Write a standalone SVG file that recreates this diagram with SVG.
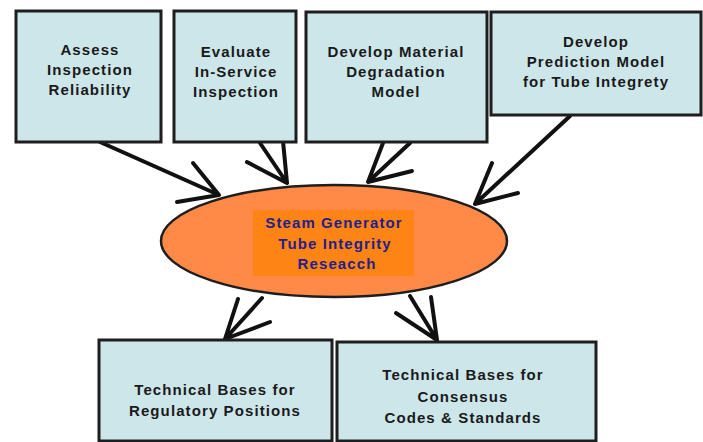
<svg xmlns="http://www.w3.org/2000/svg" width="703" height="442" viewBox="0 0 703 442">
<style>
.box{fill:#cde6ea;stroke:#1e1e1e;stroke-width:3}
.t{font-family:"Liberation Sans",Arial,sans-serif;font-weight:bold;font-size:15px;letter-spacing:1.1px;fill:#1a1a1a;text-anchor:middle}
.c{fill:#23208a}
.arr{fill:none;stroke:#111;stroke-width:4;stroke-linecap:round;stroke-linejoin:round}
</style>
<rect width="703" height="442" fill="#ffffff"/>
<g id="connectors">
<path class="arr" d="M100,142 L219,195 M193,163 L219,195 L177,202"/>
<path class="arr" d="M260,143 L287,183 M283,141 L287,183 L247,162"/>
<path class="arr" d="M410,143 L368,182 M383,143 L368,182 L412,171"/>
<path class="arr" d="M570,116 L475,204 M492,163 L475,204 L518,193"/>
<path class="arr" d="M262,298 L225,339 M238,299 L225,339 L270,322"/>
<path class="arr" d="M410,296 L437,340 M431,297 L437,340 L396,313"/>
</g>
<g id="n1">
<rect class="box" x="16" y="11" width="145" height="131"/>
<text class="t" x="90" y="55">Assess</text>
<text class="t" x="90" y="75">Inspection</text>
<text class="t" x="90" y="95">Reliability</text>
</g>
<g id="n2">
<rect class="box" x="174" y="11" width="122" height="131"/>
<text class="t" x="236" y="57">Evaluate</text>
<text class="t" x="236" y="77">In-Service</text>
<text class="t" x="236" y="97">Inspection</text>
</g>
<g id="n3">
<rect class="box" x="306" y="12" width="181" height="130"/>
<text class="t" x="396" y="57">Develop Material</text>
<text class="t" x="396" y="77">Degradation</text>
<text class="t" x="396" y="97">Model</text>
</g>
<g id="n4">
<rect class="box" x="491" y="12" width="210" height="103"/>
<text class="t" x="596" y="47">Develop</text>
<text class="t" x="596" y="67">Prediction Model</text>
<text class="t" x="596" y="87">for Tube Integrety</text>
</g>
<g id="center">
<ellipse cx="334" cy="241" rx="173" ry="56" fill="#ff8a48" stroke="#1e1e1e" stroke-width="2.5"/>
<rect x="253" y="210" width="161" height="66" fill="#ff8416"/>
<text class="t c" x="334" y="228">Steam Generator</text>
<text class="t c" x="335" y="249">Tube Integrity</text>
<text class="t c" x="337" y="269">Reseacch</text>
</g>
<g id="n5">
<rect class="box" x="99" y="340" width="233" height="101"/>
<text class="t" x="215" y="395">Technical Bases for</text>
<text class="t" x="215" y="416">Regulatory Positions</text>
</g>
<g id="n6">
<rect class="box" x="337" y="342" width="259" height="99"/>
<text class="t" x="463" y="380">Technical Bases for</text>
<text class="t" x="463" y="402">Consensus</text>
<text class="t" x="463" y="423">Codes &amp; Standards</text>
</g>
</svg>
